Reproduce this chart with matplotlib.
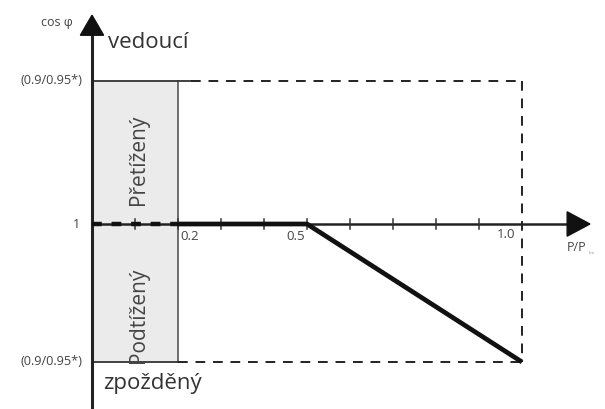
import matplotlib.pyplot as plt
from matplotlib.patches import Rectangle, Polygon

plt.rcParams['font.family'] = ['Open Sans', 'DejaVu Sans']

# characteristic curve (x = P/Pn, y = schematic cos phi: +1 leading limit, 0 = 1, -1 lagging limit)
CURVE_X = [0.2, 0.5, 1.0]
CURVE_Y = [0.0, 0.0, -0.965]
LEAD = 1.0
LAG = -0.965
X_ZONE = 0.2
X_END = 1.0
X_TICKS = [0.1, 0.2, 0.3, 0.4, 0.5, 0.6, 0.7, 0.8, 0.9]
X_LABELS = {0.2: '0.2', 0.5: '0.5', 1.0: '1.0'}

fig = plt.figure(figsize=(6.05, 4.09), dpi=100)
ax = fig.add_axes([0, 0, 1, 1])
ax.set_xlim(-92 / 430, (605 - 92) / 430)
ax.set_ylim(-(409 - 224) / 143, 224 / 143)
ax.axis('off')

# grey zones
ax.add_patch(Rectangle((0, 0), X_ZONE, LEAD, facecolor='#ebebeb', edgecolor='none', zorder=1))
ax.add_patch(Rectangle((0, LAG), X_ZONE, -LAG, facecolor='#ebebeb', edgecolor='none', zorder=1))
ax.plot([X_ZONE, X_ZONE], [LAG, LEAD], color='#555555', lw=1.2, zorder=2)
ax.plot([0, X_ZONE + 0.03], [LEAD, LEAD], color='#333333', lw=1.3, zorder=2)
ax.plot([0, X_ZONE], [LAG, LAG], color='#333333', lw=1.3, zorder=2)

# dashed limit box
dash = dict(color='#222222', lw=1.4, ls=(0, (5, 4)), zorder=2)
ax.plot([X_ZONE + 0.03, X_END], [LEAD, LEAD], **dash)
ax.plot([X_ZONE, X_END], [LAG, LAG], **dash)
ax.plot([X_END, X_END], [LEAD, LAG], **dash)

# axes with arrows
ax.plot([0, 1.105], [0, 0], color='#222222', lw=1.8, zorder=3)
ax.add_patch(Polygon([[1.105, 0.085], [1.105, -0.085], [1.158, 0]], closed=True,
                     color='#111111', zorder=4))
ax.plot([0, 0], [-1.3, 1.32], color='#222222', lw=2.2, zorder=3)
ax.add_patch(Polygon([[-0.027, 1.32], [0.027, 1.32], [0, 1.46]], closed=True,
                     color='#111111', zorder=4))

for t in X_TICKS:
    ax.plot([t, t], [-0.035, 0.035], color='#333333', lw=1.1, zorder=3)

# curve
ax.plot([0, X_ZONE], [0, 0], color='#111111', lw=3.2, ls=(0, (2.2, 2.2)), zorder=5)
ax.plot(CURVE_X, CURVE_Y, color='#111111', lw=3.4, solid_capstyle='butt', zorder=5)

# labels
tc = '#444444'
ax.text(X_ZONE + 0.005, -0.04, X_LABELS[0.2], fontsize=9.5, color=tc, ha='left', va='top')
ax.text(0.5 - 0.005, -0.04, X_LABELS[0.5], fontsize=9.5, color=tc, ha='right', va='top')
ax.text(X_END - 0.016, -0.03, X_LABELS[1.0], fontsize=9.5, color=tc, ha='right', va='top')
ax.text(1.105, -0.12, 'P/P', fontsize=9, color=tc, ha='left', va='top')
ax.text(1.156, -0.19, 'lim', fontsize=3, color='#888888', ha='left', va='top')
ax.text(-0.028, 0, '1', fontsize=9, color=tc, ha='right', va='center')
ax.text(-0.023, LEAD, '(0.9/0.95*)', fontsize=9.2, color=tc, ha='right', va='center')
ax.text(-0.023, LAG, '(0.9/0.95*)', fontsize=9.2, color=tc, ha='right', va='center')
ax.text(-0.045, 1.41, 'cos φ', fontsize=9, color=tc, ha='right', va='center')
ax.text(0.037, 1.27, 'vedoucí', fontsize=16, color='#333333', ha='left', va='center')
ax.text(0.025, -1.115, 'zpožděný', fontsize=16, color='#333333', ha='left', va='center')
ax.text(0.108, 0.45, 'Přetížený', fontsize=15, color='#444444', rotation=90,
        ha='center', va='center')
ax.text(0.108, -0.636, 'Podtížený', fontsize=15, color='#444444', rotation=90,
        ha='center', va='center')

fig.savefig('out.png', dpi=100)
